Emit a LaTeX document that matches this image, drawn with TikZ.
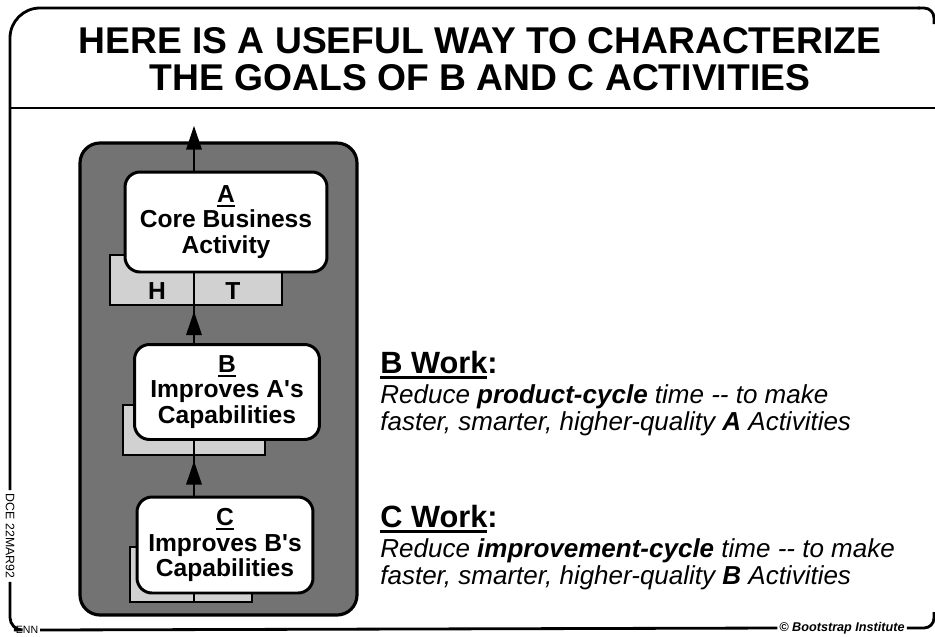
\documentclass[tikz,border=0pt]{standalone}
\usepackage{fontspec}
\setmainfont{Liberation Sans}
\newfontfamily\plainsans{Liberation Sans}
\usetikzlibrary{arrows.meta,positioning}

% thick underline for the activity letters and headings
\newcommand\ulthick[1]{\setbox0\hbox{#1}\rlap{\rule[-0.2em]{\wd0}{0.09em}}\box0}
% straight apostrophe
\newcommand\sq{{\plainsans'}}

\begin{document}
\begin{tikzpicture}[x=0.02cm, y=-0.02cm,
  frame/.style={line width=1.6pt},
  activity/.style={draw, line width=1.7pt, fill=white, rounded corners=0.3cm,
    align=center, inner sep=0pt, font=\fontsize{14}{14.6}\selectfont\bfseries},
  tool/.style={draw, line width=1.5pt, fill=black!18},
  link/.style={line width=1.7pt},
  uparrow/.style={line width=1.7pt, -{Triangle[length=0.48cm,width=0.3cm]}},
  heading/.style={anchor=base west, inner sep=0pt,
    font=\fontsize{17.5}{20}\selectfont\bfseries},
  goal/.style={anchor=north west, inner sep=0pt, align=left,
    font=\fontsize{14.8}{15.4}\selectfont\itshape},
]
\useasboundingbox (0,0) rectangle (935,636);

% page frame
\node[rotate=-90, inner sep=2pt, font=\fontsize{7}{8}\selectfont] (stamp) at (10,536) {DCE 22MAR92};
\node[inner sep=1pt, font=\fontsize{6}{7}\selectfont] (enn) at (27,630) {ENN};
\node[inner sep=1pt, font=\fontsize{7.2}{8}\selectfont\bfseries\itshape] (inst) at (842,628) {\textcopyright\ Bootstrap Institute};
\draw[frame, rounded corners=0.6cm] (stamp.west) -- (10,8) -- (920,8);
\draw[frame, rounded corners=0.2cm] (918,8) -- (934,8) -- (934,24);
\draw[frame] (10,108) -- (935,108);
\draw[frame, rounded corners=0.25cm] (stamp.east) -- (10,630) -- (enn.west);
\draw[frame] (enn.east) -- (inst.west);
\draw[frame, rounded corners=0.2cm] (inst.east) -- (934,628) -- (934,612);

\node[anchor=north, inner sep=0pt, align=center,
  font=\fontsize{21.2}{21.2}\selectfont\bfseries] (title) at (480,27)
  {HERE IS A USEFUL WAY TO CHARACTERIZE\\THE GOALS OF B AND C ACTIVITIES};

% the A-B-C stack
\draw[line width=1.8pt, fill=black!55, rounded corners=0.4cm] (80,143) rectangle (357,615);

\draw[tool] (110,255) rectangle (282,305);
\draw[tool] (123,405) rectangle (265,455);
\draw[tool] (130,547) rectangle (252,602);
\node[font=\fontsize{14}{15}\selectfont\bfseries] (h) at (157,291) {H};
\node[font=\fontsize{14}{15}\selectfont\bfseries] (t) at (233,291) {T};

\node[activity, minimum width=4.04cm, minimum height=2cm] (A) at (226,222)
  {\ulthick{A}\\Core Business\\Activity};
\node[activity, minimum width=3.7cm, minimum height=1.9cm] (B) at (227,392)
  {\ulthick{B}\\Improves A\sq s\\Capabilities};
\node[activity, minimum width=3.52cm, minimum height=1.92cm] (C) at (225,545)
  {\ulthick{C}\\Improves B\sq s\\Capabilities};

\coordinate (spine) at (194,0);
\draw[link] (C.north -| spine) -- (B.south -| spine);
\draw[uparrow] (C.north -| spine) -- ++(0,-35);
\draw[link] (B.north -| spine) -- (A.south -| spine);
\draw[uparrow] (B.north -| spine) -- ++(0,-32);
\draw[uparrow] (A.north -| spine) -- ++(0,-45);
\draw[link] (C.south -| spine) -- ++(0,9);

% goals
\node[heading] (bwork) at (380,373) {\ulthick{B Work}:};
\node[goal] (bgoal) at (380,384)
  {Reduce \textbf{product-cycle} time -{}- to make\\faster, smarter, higher-quality \textbf{A} Activities};
\node[heading] (cwork) at (380,527) {\ulthick{C Work}:};
\node[goal] (cgoal) at (380,538)
  {Reduce \textbf{improvement-cycle} time -{}- to make\\faster, smarter, higher-quality \textbf{B} Activities};

\end{tikzpicture}
\end{document}
